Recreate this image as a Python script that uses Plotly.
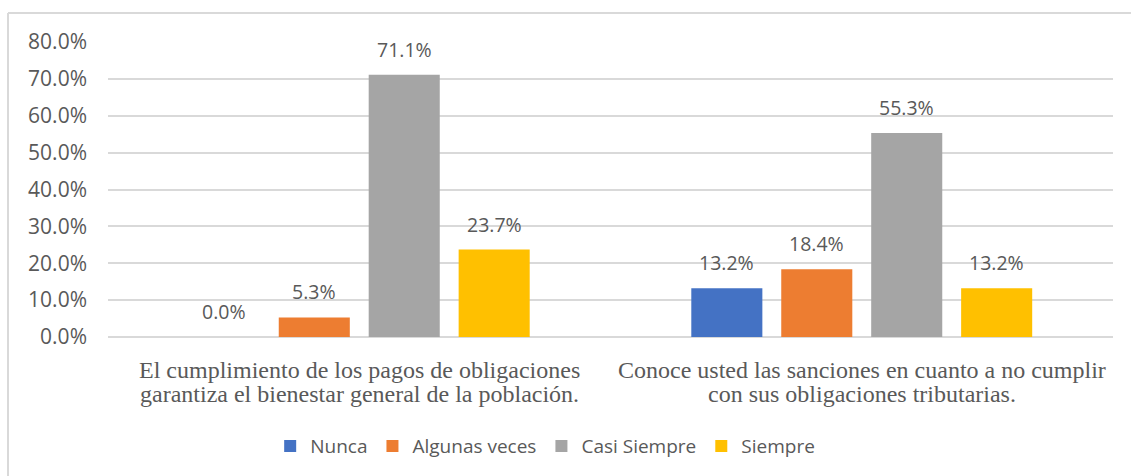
import plotly.graph_objects as go

categories = [
    "El cumplimiento de los pagos de obligaciones<br>garantiza el bienestar general de la población.",
    "Conoce usted las sanciones en cuanto a no cumplir<br>con sus obligaciones tributarias.",
]
series_names = ["Nunca", "Algunas veces", "Casi Siempre", "Siempre"]
series_values = [
    [0.0, 0.132],
    [0.053, 0.184],
    [0.711, 0.553],
    [0.237, 0.132],
]
colors = ["#4472C4", "#ED7D31", "#A5A5A5", "#FFC000"]

TXT = "#595959"
SANS = "Open Sans"
SERIF = "Liberation Serif"
BARGAP = 0.284
BARGROUPGAP = 0.21

fig = go.Figure()
for name, vals, col in zip(series_names, series_values, colors):
    fig.add_trace(go.Bar(name=name, x=categories, y=vals, marker_color=col,
                         marker_line_width=0))

# data labels as annotations positioned above each bar
n = len(series_names)
slot = (1 - BARGAP) / n
annotations = []
for j, vals in enumerate(series_values):
    for i, v in enumerate(vals):
        annotations.append(dict(
            x=i + (j - (n - 1) / 2) * slot, y=v, xref="x", yref="y",
            text=f"{v*100:.1f}%", showarrow=False, yanchor="bottom",
            yshift=10, font=dict(family=SANS, size=19.5, color=TXT)))

# category labels (two lines each, tighter line spacing than plotly's default)
line_y = [-0.112, -0.194]
for i, cat in enumerate(categories):
    for k, line in enumerate(cat.split("<br>")):
        annotations.append(dict(
            x=i, y=line_y[k], xref="x", yref="paper", text=line,
            showarrow=False, yanchor="middle", xanchor="center",
            font=dict(family=SERIF, size=24, color=TXT)))

fig.update_layout(
    width=1131, height=476,
    margin=dict(l=108, r=18, t=42, b=138),
    paper_bgcolor="white", plot_bgcolor="white",
    barmode="group", bargap=BARGAP, bargroupgap=BARGROUPGAP,
    annotations=annotations,
    legend=dict(orientation="h", x=0.435, xanchor="center", y=-0.365,
                yanchor="middle", font=dict(family=SANS, size=19, color=TXT),
                traceorder="normal"),
    shapes=[
        dict(type="line", xref="paper", yref="paper", x0=-0.0995, x1=1.05,
             y0=1.098, y1=1.098, line=dict(color="#D9D9D9", width=2)),
        dict(type="line", xref="paper", yref="paper", x0=-0.0995, x1=-0.0995,
             y0=-0.6, y1=1.098, line=dict(color="#D9D9D9", width=2)),
    ],
)
fig.update_yaxes(range=[0, 0.8], dtick=0.1, tickformat=".1%",
                 showgrid=True, gridcolor="#D9D9D9", gridwidth=1.5,
                 zeroline=True, zerolinecolor="#D9D9D9", zerolinewidth=1.5,
                 showline=False, ticks="", ticklabelstandoff=20,
                 tickfont=dict(family=SANS, size=21, color=TXT))
fig.update_xaxes(showline=False, ticks="", showticklabels=False)

fig.write_html("out.html", config={"displayModeBar": False},
               post_script="document.body.style.margin='0';document.body.style.overflow='hidden';")
